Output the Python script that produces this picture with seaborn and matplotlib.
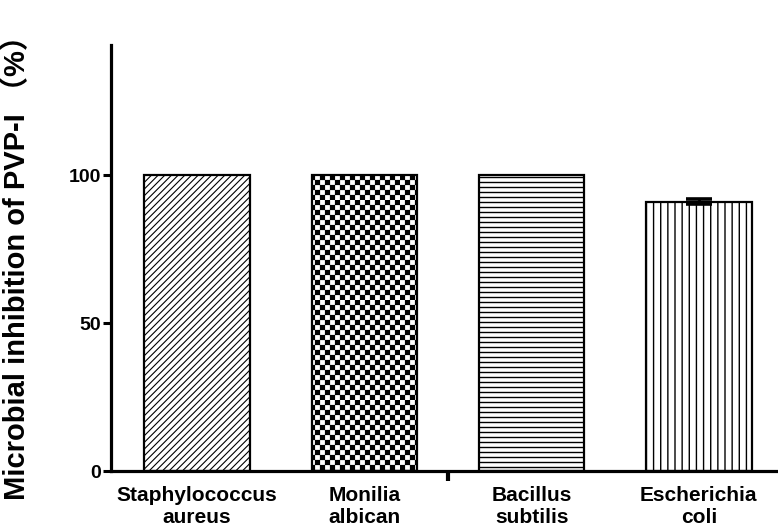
import numpy as np
import matplotlib
matplotlib.use("Agg")
import matplotlib.pyplot as plt
import matplotlib.hatch as mhatch
from matplotlib.path import Path
import seaborn as sns

# ---------------- data ----------------
categories = ["Staphylococcus aureus", "Monilia albican", "Bacillus subtilis", "Escherichia coli"]
tick_labels = ["Staphylococcus\naureus", "Monilia\nalbican", "Bacillus\nsubtilis", "Escherichia\ncoli"]
values = [100, 100, 100, 91]
sd = [0.0, 0.0, 0.0, 0.8]
yticks = [0, 50, 100]
ylabel = "Microbial inhibition of PVP-I （%）"
hatches = ["/////", "*", "-", "|"]


# ---------------- custom hatch textures ----------------
class CheckerHatch(mhatch.HatchPatternBase):
    """Filled checkerboard squares, used for the '*' hatch character."""
    cells = 20

    def __init__(self, hatch, density):
        self.n = self.cells if "*" in hatch else 0
        self.num_vertices = (self.n * self.n // 2) * 5

    def set_vertices_and_codes(self, vertices, codes):
        s = 1.0 / self.n
        ins = 0.006
        k = 0
        for i in range(self.n):
            for j in range(self.n):
                if (i + j) % 2 == 0:
                    x0, y0 = i * s + ins, j * s + ins
                    x1, y1 = (i + 1) * s - ins, (j + 1) * s - ins
                    vertices[k:k + 5] = [[x0, y0], [x1, y0], [x1, y1], [x0, y1], [x0, y0]]
                    codes[k:k + 5] = [Path.MOVETO, Path.LINETO, Path.LINETO,
                                      Path.LINETO, Path.CLOSEPOLY]
                    k += 5


class HLines(mhatch.HorizontalHatch):
    def __init__(self, hatch, density):
        self.num_lines = 20 if "-" in hatch else 0
        self.num_vertices = self.num_lines * 2


class VLines(mhatch.VerticalHatch):
    def __init__(self, hatch, density):
        self.num_lines = 14 if "|" in hatch else 0
        self.num_vertices = self.num_lines * 2


new_types = []
for t in mhatch._hatch_types:
    if t is mhatch.Stars:
        new_types.append(CheckerHatch)
    elif t is mhatch.HorizontalHatch:
        new_types.append(HLines)
    elif t is mhatch.VerticalHatch:
        new_types.append(VLines)
    else:
        new_types.append(t)
mhatch._hatch_types[:] = new_types

# ---------------- style ----------------
sns.set_style("ticks")
plt.rcParams["font.family"] = ["Liberation Sans", "Noto Sans CJK SC", "DejaVu Sans"]
plt.rcParams["font.weight"] = "bold"
plt.rcParams["hatch.linewidth"] = 1.0
plt.rcParams["hatch.color"] = "black"
for key in ["text.color", "axes.labelcolor", "xtick.color", "ytick.color",
            "xtick.labelcolor", "ytick.labelcolor", "axes.edgecolor"]:
    plt.rcParams[key] = "black"

fig = plt.figure(figsize=(7.78, 5.29), dpi=100)
ax = fig.add_axes([0.1427, 0.1096, 0.8573, 0.8054])

sns.barplot(x=categories, y=values, color="white", saturation=1,
            edgecolor="black", linewidth=1.6, width=0.63,
            errorbar=None, ax=ax, zorder=2)

for i, (patch, h) in enumerate(zip(ax.patches, hatches)):
    patch.set_hatch(h)
    patch.set_facecolor("white")
    if i == 0 and hasattr(patch, "set_hatch_linewidth"):
        patch.set_hatch_linewidth(0.8)

# error bars (only where sd > 0)
pos = np.arange(len(categories))
vals = np.asarray(values, dtype=float)
err = np.asarray(sd, dtype=float)
m = err > 0
ax.errorbar(pos[m], vals[m], yerr=err[m], fmt="none", ecolor="black",
            elinewidth=2, capsize=9.5, capthick=2.6, zorder=3)

# axes
ax.set_xlim(-0.514, 3.473)
ax.set_ylim(0, 144)
ax.set_yticks(yticks)
ax.set_yticklabels([str(v) for v in yticks], fontsize=14, fontweight="bold")
ax.set_xticks(pos)
ax.set_xticklabels(tick_labels, fontsize=15, fontweight="bold", linespacing=1.15)
ax.set_xticks([1.5], minor=True)
ax.tick_params(axis="x", which="major", length=0, pad=11)
ax.tick_params(axis="x", which="minor", length=7, width=3, direction="out", color="black")
ax.tick_params(axis="y", length=6, width=2.2, pad=1, color="black", labelcolor="black")

for side in ["top", "right"]:
    ax.spines[side].set_visible(False)
for side in ["left", "bottom"]:
    ax.spines[side].set_linewidth(2.3)
    ax.spines[side].set_color("black")

ax.set_xlabel("")
ax.set_ylabel(ylabel, fontsize=21, fontweight="bold", va="center", color="black")
ax.yaxis.set_label_coords(-0.141, 0.495)

fig.savefig("out.png", dpi=100)
